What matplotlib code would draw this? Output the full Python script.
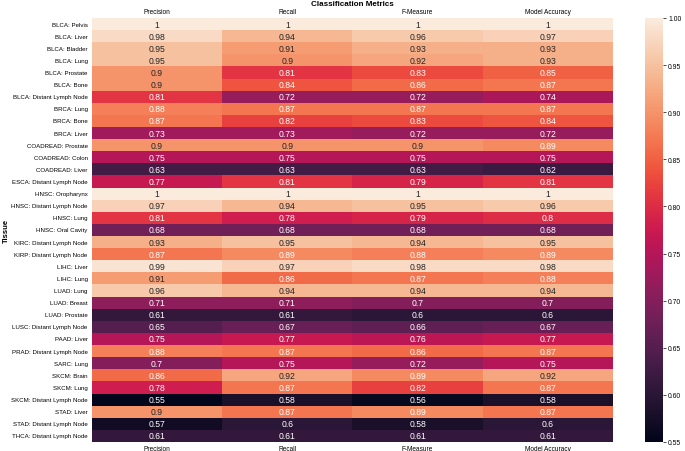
import numpy as np
import pandas as pd
import matplotlib
matplotlib.use("Agg")
import matplotlib.pyplot as plt
import seaborn as sns

plt.rcParams['font.family'] = ['Liberation Sans', 'DejaVu Sans']

tissues = [
    "BLCA: Pelvis", "BLCA: Liver", "BLCA: Bladder", "BLCA: Lung", "BLCA: Prostate",
    "BLCA: Bone", "BLCA: Distant Lymph Node", "BRCA: Lung", "BRCA: Bone", "BRCA: Liver",
    "COADREAD: Prostate", "COADREAD: Colon", "COADREAD: Liver", "ESCA: Distant Lymph Node",
    "HNSC: Oropharynx", "HNSC: Distant Lymph Node", "HNSC: Lung", "HNSC: Oral Cavity",
    "KIRC: Distant Lymph Node", "KIRP: Distant Lymph Node", "LIHC: Liver", "LIHC: Lung",
    "LUAD: Lung", "LUAD: Breast", "LUAD: Prostate", "LUSC: Distant Lymph Node",
    "PAAD: Liver", "PRAD: Distant Lymph Node", "SARC: Lung", "SKCM: Brain", "SKCM: Lung",
    "SKCM: Distant Lymph Node", "STAD: Liver", "STAD: Distant Lymph Node",
    "THCA: Distant Lymph Node",
]
metrics = ["Precision", "Recall", "F-Measure", "Model Accuracy"]

precision = [1, 0.98, 0.95, 0.95, 0.9, 0.9, 0.81, 0.88, 0.87, 0.73, 0.9, 0.75, 0.63, 0.77,
             1, 0.97, 0.81, 0.68, 0.93, 0.87, 0.99, 0.91, 0.96, 0.71, 0.61, 0.65, 0.75,
             0.88, 0.7, 0.86, 0.78, 0.55, 0.9, 0.57, 0.61]
recall = [1, 0.94, 0.91, 0.9, 0.81, 0.84, 0.72, 0.87, 0.82, 0.73, 0.9, 0.75, 0.63, 0.81,
          1, 0.94, 0.78, 0.68, 0.95, 0.89, 0.97, 0.86, 0.94, 0.71, 0.61, 0.67, 0.77,
          0.87, 0.75, 0.92, 0.87, 0.58, 0.87, 0.6, 0.61]
fmeasure = [1, 0.96, 0.93, 0.92, 0.83, 0.86, 0.72, 0.87, 0.83, 0.72, 0.9, 0.75, 0.63, 0.79,
            1, 0.95, 0.79, 0.68, 0.94, 0.88, 0.98, 0.87, 0.94, 0.7, 0.6, 0.66, 0.76,
            0.86, 0.72, 0.89, 0.82, 0.56, 0.89, 0.58, 0.61]
accuracy = [1, 0.97, 0.93, 0.93, 0.85, 0.87, 0.74, 0.87, 0.84, 0.72, 0.89, 0.75, 0.62, 0.81,
            1, 0.96, 0.8, 0.68, 0.95, 0.89, 0.98, 0.88, 0.94, 0.7, 0.6, 0.67, 0.77,
            0.87, 0.75, 0.92, 0.87, 0.58, 0.87, 0.6, 0.61]
cbar_ticks = [0.55, 0.6, 0.65, 0.7, 0.75, 0.8, 0.85, 0.9, 0.95, 1.0]

df = pd.DataFrame(dict(zip(metrics, [precision, recall, fmeasure, accuracy])), index=tissues)
df.index.name = "Tissue"

fig = plt.figure(figsize=(6.85, 4.52), dpi=100)
ax = fig.add_axes([0.134, 0.020, 0.761, 0.938])
cax = fig.add_axes([0.942, 0.020, 0.026, 0.938])

sns.heatmap(df, ax=ax, cbar_ax=cax, cmap="rocket", vmin=0.55, vmax=1.0,
            annot=True, annot_kws={"fontsize": 6.2},
            xticklabels=True, yticklabels=True)

ax.tick_params(axis='y', length=0, labelsize=4.45, pad=3)
ax.tick_params(axis='x', length=0, labelsize=4.7, labeltop=True, labelbottom=True, pad=2.5)
ax.set_xlabel("")
ax.set_ylabel("Tissue", fontsize=5.5, fontweight="bold")
ax.yaxis.set_label_coords(-0.157, 0.5)
ax.set_title("Classification Metrics", fontsize=5.8, fontweight="bold", pad=9)
plt.setp(ax.get_yticklabels(), rotation=0)

cax.set_yticks(cbar_ticks)
cax.set_yticklabels(["%.2f" % t for t in cbar_ticks])
cax.tick_params(labelsize=4.9, length=2, width=0.5, pad=1.5)

fig.savefig("out.png", dpi=100)
